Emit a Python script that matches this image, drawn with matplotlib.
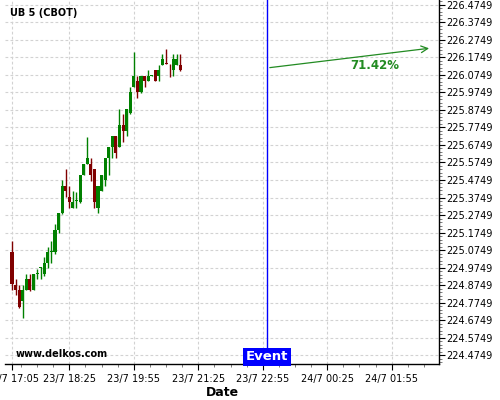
import matplotlib
matplotlib.use('Agg')
import matplotlib.pyplot as plt
from matplotlib.ticker import FixedLocator, FormatStrFormatter
import numpy as np

# minutes after 23/7 17:05, one candle every 5 minutes
minutes = list(range(0, 240, 5))
opens = [225.066, 224.876, 224.847, 224.785, 224.847, 224.910, 224.847, 224.939,
         224.973, 224.939, 225.001, 225.064, 225.064, 225.190, 225.287, 225.441,
         225.378, 225.315, 225.355, 225.349, 225.503, 225.566, 225.566, 225.538,
         225.315, 225.412, 225.475, 225.600, 225.663, 225.726, 225.663, 225.789,
         225.754, 225.857, 226.005, 226.040, 225.977, 226.068, 226.040, 226.068,
         226.102, 226.068, 226.131, 226.139, 226.137, 226.102, 226.131, 226.131]
highs = [225.127, 224.910, 224.876, 224.876, 224.939, 224.939, 224.939, 224.967,
         224.979, 225.036, 225.093, 225.127, 225.224, 225.287, 225.475, 225.538,
         225.441, 225.412, 225.407, 225.503, 225.566, 225.720, 225.600, 225.538,
         225.441, 225.503, 225.600, 225.663, 225.726, 225.726, 225.880, 225.851,
         225.880, 226.005, 226.205, 226.068, 226.068, 226.068, 226.102, 226.074,
         226.102, 226.131, 226.194, 226.222, 226.137, 226.194, 226.194, 226.194]
lows = [224.847, 224.819, 224.745, 224.688, 224.847, 224.842, 224.847, 224.910,
        224.910, 224.927, 224.973, 225.001, 225.053, 225.173, 225.281, 225.378,
        225.315, 225.315, 225.315, 225.344, 225.503, 225.566, 225.469, 225.315,
        225.287, 225.412, 225.441, 225.503, 225.600, 225.600, 225.663, 225.692,
        225.726, 225.851, 226.005, 225.943, 225.971, 226.005, 226.040, 226.068,
        226.040, 226.040, 226.131, 226.137, 226.063, 226.068, 226.131, 226.097]
closes = [224.882, 224.847, 224.750, 224.847, 224.910, 224.847, 224.939, 224.944,
          224.979, 225.001, 225.064, 225.070, 225.190, 225.287, 225.441, 225.412,
          225.349, 225.349, 225.361, 225.503, 225.566, 225.600, 225.503, 225.349,
          225.441, 225.503, 225.600, 225.663, 225.726, 225.629, 225.789, 225.754,
          225.880, 225.977, 226.068, 225.977, 226.068, 226.040, 226.068, 226.074,
          226.040, 226.102, 226.165, 226.137, 226.134, 226.165, 226.165, 226.102]

tick_minutes = [0, 80, 170, 260, 350, 440, 530]
tick_labels = ["23/7 17:05", "23/7 18:25", "23/7 19:55", "23/7 21:25",
               "23/7 22:55", "24/7 00:25", "24/7 01:55"]
event_minute = 356
arrow_start = (356, 226.114)
arrow_end = (586, 226.228)
pct_text = "71.42%"
title_text = "UB 5 (CBOT)"
y_base = 224.4749

green = '#008000'
red = '#800000'

fig = plt.figure(figsize=(5, 4), dpi=100)
ax = fig.add_axes([0.01, 0.09, 0.868, 0.91])

for t, o, h, l, c in zip(minutes, opens, highs, lows, closes):
    col = green if c >= o else red
    ax.vlines(t, l, h, color=col, linewidth=1.0, zorder=3)
    bottom = min(o, c)
    height = max(abs(c - o), 0.005)
    ax.bar(t, height, bottom=bottom, width=4.3, color=col, linewidth=0, zorder=4)

ax.set_xlim(-9.8, 596)
ax.set_ylim(224.425, 226.5017)

ax.xaxis.set_major_locator(FixedLocator(tick_minutes))
ax.set_xticklabels(tick_labels)
minor_x = [80 + 22.5 * k for k in range(-4, 24)]
ax.xaxis.set_minor_locator(FixedLocator(minor_x))

ax.yaxis.tick_right()
ax.yaxis.set_major_locator(FixedLocator([y_base + 0.1 * k for k in range(21)]))
ax.yaxis.set_minor_locator(FixedLocator([y_base - 0.04 + 0.02 * k for k in range(105)]))
ax.yaxis.set_major_formatter(FormatStrFormatter('%.4f'))

ax.tick_params(axis='both', which='major', labelsize=7, length=4, width=0.8,
               direction='out', colors='black')
ax.tick_params(axis='both', which='minor', length=2, width=0.6, colors='#666666')
ax.tick_params(axis='y', pad=1)
ax.tick_params(axis='x', pad=3)

ax.grid(True, which='major', color='#d2d2d2', linestyle=(0, (2.5, 2)), linewidth=0.8)
ax.set_axisbelow(True)

for s in ['top', 'left']:
    ax.spines[s].set_visible(False)
for s in ['right', 'bottom']:
    ax.spines[s].set_linewidth(1.0)
    ax.spines[s].set_color('black')

ax.axvline(event_minute, color='#0000ff', linewidth=1.0, zorder=5)
ax.text(event_minute, 224.425 + 0.004, "Event", color='white', fontsize=9.5,
        fontweight='bold', ha='center', va='bottom', zorder=6,
        bbox=dict(boxstyle='square,pad=0.2', facecolor='#0000ff', edgecolor='none'))

ax.annotate('', xy=arrow_end, xytext=arrow_start,
            arrowprops=dict(arrowstyle='->', color='#228b22', linewidth=0.9,
                            mutation_scale=12), zorder=6)
ax.text(0.851, 0.819, pct_text, transform=ax.transAxes, color='#228b22',
        fontsize=8.5, fontweight='bold', ha='center', va='center')

ax.text(0.012, 0.965, title_text, transform=ax.transAxes, fontsize=7,
        fontweight='bold', ha='left', va='center')
ax.text(0.024, 0.027, "www.delkos.com", transform=ax.transAxes, fontsize=7,
        fontweight='bold', ha='left', va='center')

ax.set_xlabel("Date", fontsize=9, fontweight='bold', labelpad=2)

fig.savefig('out.png', dpi=100)
